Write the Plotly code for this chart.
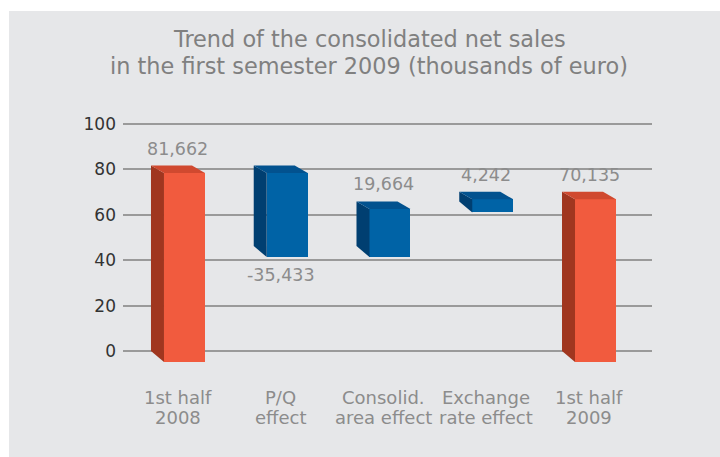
import plotly.graph_objects as go

# ---- data (thousands of euro) ----
cat_line1 = ["1st half", "P/Q", "Consolid.", "Exchange", "1st half"]
cat_line2 = ["2008", "effect", "area effect", "rate effect", "2009"]
values = [81662, -35433, 19664, 4242, 70135]
measures = ["absolute", "relative", "relative", "relative", "total"]
value_labels = ["81,662", "-35,433", "19,664", "4,242", "70,135"]
tick_vals = [0, 20, 40, 60, 80, 100]
title_lines = ["Trend of the consolidated net sales",
               "in the first semester 2009 (thousands of euro)"]

# ---- geometry / style (figure pixels) ----
W, H = 720, 457
L, T = 123, 119
R = W - 652
B = H - 370
plot_w = W - L - R
plot_h = H - T - B
x_range = [-0.535, 4.613]
y_range = [-8.37, 102.2]
px_x = plot_w / (x_range[1] - x_range[0])
px_y = plot_h / (y_range[1] - y_range[0])

d_top = 7.5 / px_y      # perspective drop at top
d_bot = 11.0 / px_y     # perspective drop at bottom
side_w = 13.0 / px_x
front_w = 41.0 / px_x
half = (side_w + front_w) / 2

FONT = "DejaVu Sans"
orange = dict(front="#F15B3E", side="#A0361F", top="#D0492F")
blue = dict(front="#0063A6", side="#003F71", top="#02528F")

# cumulative lows/highs in millions (axis units)
lows, highs = [], []
running = 0.0
for v, m in zip(values, measures):
    v = v / 1000.0
    if m == "absolute":
        lo, hi = 0.0, v
        running = v
    elif m == "total":
        lo, hi = 0.0, running
    else:
        a, b = running, running + v
        lo, hi = min(a, b), max(a, b)
        running = b
    lows.append(lo)
    highs.append(hi)

fig = go.Figure()

for i, (lo, hi, m) in enumerate(zip(lows, highs, measures)):
    col = orange if m in ("absolute", "total") else blue
    xl = i - half
    xm = xl + side_w
    xr = i + half
    xbr = xr - side_w
    fig.add_trace(go.Scatter(
        x=[xl, xl, xm, xm, xl], y=[lo, hi, hi - d_top, lo - d_bot, lo],
        fill="toself", fillcolor=col["side"], mode="lines",
        line=dict(width=0, color=col["side"]), hoverinfo="skip", showlegend=False))
    fig.add_trace(go.Scatter(
        x=[xl, xbr, xr, xm, xl], y=[hi, hi, hi - d_top, hi - d_top, hi],
        fill="toself", fillcolor=col["top"], mode="lines",
        line=dict(width=0, color=col["top"]), hoverinfo="skip", showlegend=False))
    fig.add_trace(go.Bar(
        x=[(xm + xr) / 2], y=[(hi - d_top) - (lo - d_bot)], base=[lo - d_bot],
        width=[xr - xm], marker=dict(color=col["front"], line=dict(width=0)),
        hoverinfo="skip", showlegend=False))

# value labels
for i, (lo, hi, v, lab) in enumerate(zip(lows, highs, values, value_labels)):
    if v < 0:
        y, ys = lo - d_bot, -18
    else:
        y, ys = hi, 17
    fig.add_annotation(x=i, y=y, yshift=ys, text=lab, showarrow=False,
                       xref="x", yref="y", yanchor="middle",
                       font=dict(size=17.5, color="#8C8C8C", family=FONT))

x_p = lambda px: (px - L) / plot_w
y_p = lambda py: (H - B - py) / plot_h

# category labels (two lines each)
for i, (a, b) in enumerate(zip(cat_line1, cat_line2)):
    fig.add_annotation(x=i, xref="x", y=y_p(397), yref="paper", text=a, showarrow=False,
                       yanchor="middle", font=dict(size=18, color="#8C8C8C", family=FONT))
    fig.add_annotation(x=i, xref="x", y=y_p(417), yref="paper", text=b, showarrow=False,
                       yanchor="middle", font=dict(size=18, color="#8C8C8C", family=FONT))

# title (two lines)
for txt, yy in zip(title_lines, [39, 66]):
    fig.add_annotation(x=x_p(369), xref="paper", y=y_p(yy), yref="paper", text=txt,
                       showarrow=False, xanchor="center", yanchor="middle",
                       font=dict(size=22.4, color="#808080", family=FONT))

# white margins top/left
fig.add_shape(type="rect", xref="paper", yref="paper", x0=x_p(-20), x1=x_p(W + 20),
              y0=y_p(11), y1=y_p(-20), fillcolor="white", line=dict(width=0))
fig.add_shape(type="rect", xref="paper", yref="paper", x0=x_p(-20), x1=x_p(9),
              y0=y_p(H + 20), y1=y_p(-20), fillcolor="white", line=dict(width=0))

fig.update_layout(
    width=W, height=H,
    margin=dict(l=L, r=R, t=T, b=B, pad=0),
    paper_bgcolor="#E6E7E9", plot_bgcolor="#E6E7E9",
    barmode="overlay", bargap=0,
    font=dict(family=FONT),
    xaxis=dict(range=x_range, showticklabels=False, showgrid=False, zeroline=False,
               showline=False, ticks=""),
    yaxis=dict(range=y_range, tickvals=tick_vals, showgrid=True, gridcolor="#9A9A9A",
               gridwidth=1.5, zeroline=False, showline=False, ticks="",
               ticklabelstandoff=6, tickfont=dict(size=17, color="#333333", family=FONT)),
)

fig.write_html("out.html", config={"displayModeBar": False},
               post_script="document.body.style.margin='0';")
